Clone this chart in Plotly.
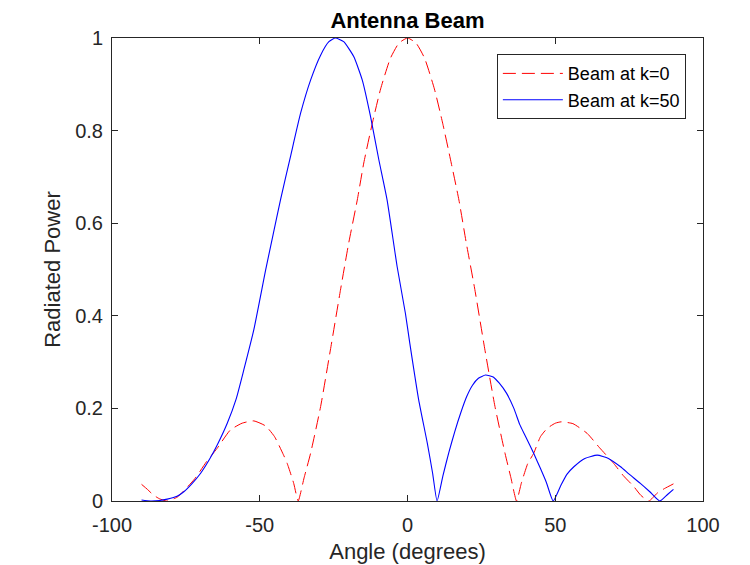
import plotly.graph_objects as go

# beam at k=0 (red dashed)
angleK0 = [-90, -88, -86, -84, -81.5, -78, -75.7, -72, -68, -64.4, -60, -56, -52, -48, -45, -42, -40.7, -38.5, -37,
           -35, -32.8, -29.4, -26.1, -22.7, -19.9, -17, -14.8, -11.9, -9.1, -5.8, -2.9, 0,
           2.9, 5.8, 9.1, 11.9, 14.8, 17.4, 19.9, 22.7, 26.1, 29.6, 33, 35, 36.9,
           38.5, 40.7, 42.7, 45, 47.3, 50, 52, 56, 60.8, 65, 69.8, 73, 76.6, 79, 81.7, 84.5, 87, 90]
powerK0 = [0.036, 0.025, 0.013, 0.005, 0.0, 0.008, 0.022, 0.048, 0.085, 0.114, 0.153, 0.168, 0.173, 0.162, 0.139, 0.1, 0.081, 0.038, 0.0,
           0.05, 0.103, 0.204, 0.326, 0.455, 0.557, 0.65, 0.73, 0.816, 0.89, 0.956, 0.989, 1.0,
           0.989, 0.956, 0.89, 0.816, 0.73, 0.65, 0.557, 0.46, 0.33, 0.204, 0.103, 0.05, 0.0,
           0.038, 0.081, 0.103, 0.139, 0.157, 0.168, 0.171, 0.167, 0.146, 0.115, 0.081, 0.055, 0.031, 0.012, 0.0, 0.017, 0.027, 0.037]

# beam at k=50 (blue solid)
angleK50 = [-90, -87, -84, -81.3, -78, -75.7, -73, -70, -67, -64.4, -61, -58, -55.4, -52, -48, -45.5, -43, -39.6, -36.2,
            -32.8, -29.4, -26.6, -24.4, -21.6, -18.2, -15.3, -12.5, -9.7, -6.9, -3.5, -0.7, 0.8, 3.8, 6.7, 8.5, 10,
            12, 14, 16, 18, 20, 22, 24, 26.4, 29, 31, 33.5, 36, 38, 40, 42.7, 45, 47, 49.3,
            52, 54, 56.3, 60, 64.2, 68, 72.1, 75, 78.8, 82, 85.4, 88, 90]
powerK50 = [0.002, 0.0, 0.001, 0.004, 0.01, 0.02, 0.037, 0.06, 0.09, 0.121, 0.168, 0.22, 0.283, 0.37, 0.499, 0.575, 0.65, 0.744, 0.837,
            0.909, 0.963, 0.992, 1.0, 0.992, 0.96, 0.909, 0.83, 0.737, 0.65, 0.506, 0.405, 0.34, 0.218, 0.125, 0.06, 0.0,
            0.055, 0.105, 0.15, 0.19, 0.225, 0.25, 0.265, 0.272, 0.268, 0.255, 0.233, 0.2, 0.165, 0.139, 0.103, 0.07, 0.04, 0.0,
            0.035, 0.058, 0.074, 0.092, 0.099, 0.092, 0.074, 0.058, 0.038, 0.02, 0.0, 0.014, 0.025]

xTicks = [-100, -50, 0, 50, 100]
xTickText = ["-100", "-50", "0", "50", "100"]
yTicks = [0, 0.2, 0.4, 0.6, 0.8, 1]
yTickText = ["0", "0.2", "0.4", "0.6", "0.8", "1"]

fig = go.Figure()
fig.add_trace(go.Scatter(x=angleK0, y=powerK0, mode="lines", name="Beam at k=0",
                         line=dict(color="#ff0000", width=1, dash="13px,6px", shape="spline", smoothing=0.5)))
fig.add_trace(go.Scatter(x=angleK50, y=powerK50, mode="lines", name="Beam at k=50",
                         line=dict(color="#0000ff", width=1.1, shape="spline", smoothing=0.5)))

axisColor = "#262626"
# page body has an 8px margin, so the figure is a bit smaller than the window
fig.update_layout(
    width=742, height=557,
    paper_bgcolor="white", plot_bgcolor="white",
    margin=dict(l=104, r=47, t=30, b=64),
    font=dict(family="Liberation Sans, Arial, sans-serif", color=axisColor),
    title=dict(text="<b>Antenna Beam</b>", x=0.5, xref="paper", xanchor="center",
               y=0.978, yanchor="middle", font=dict(size=22, color="black")),
    showlegend=True,
    legend=dict(x=0.971, y=0.965, xanchor="right", yanchor="top", bgcolor="white",
                bordercolor=axisColor, borderwidth=1, font=dict(size=18, color="black"),
                tracegroupgap=0, itemwidth=60),
)
fig.update_xaxes(range=[-100, 100], tickvals=xTicks, ticktext=xTickText, ticks="inside", ticklen=6,
                 tickcolor=axisColor, showline=True, linecolor=axisColor, linewidth=1, mirror="ticks",
                 showgrid=False, zeroline=False, tickfont=dict(size=20), ticklabelstandoff=6, automargin=False,
                 title=dict(text="Angle (degrees)", font=dict(size=22), standoff=8))
fig.update_yaxes(range=[0, 1], tickvals=yTicks, ticktext=yTickText, ticks="inside", ticklen=6,
                 tickcolor=axisColor, showline=True, linecolor=axisColor, linewidth=1, mirror="ticks",
                 showgrid=False, zeroline=False, tickfont=dict(size=20), ticklabelstandoff=4, automargin=False,
                 title=dict(text="Radiated Power", font=dict(size=22), standoff=8))

fig.write_html("out.html")
